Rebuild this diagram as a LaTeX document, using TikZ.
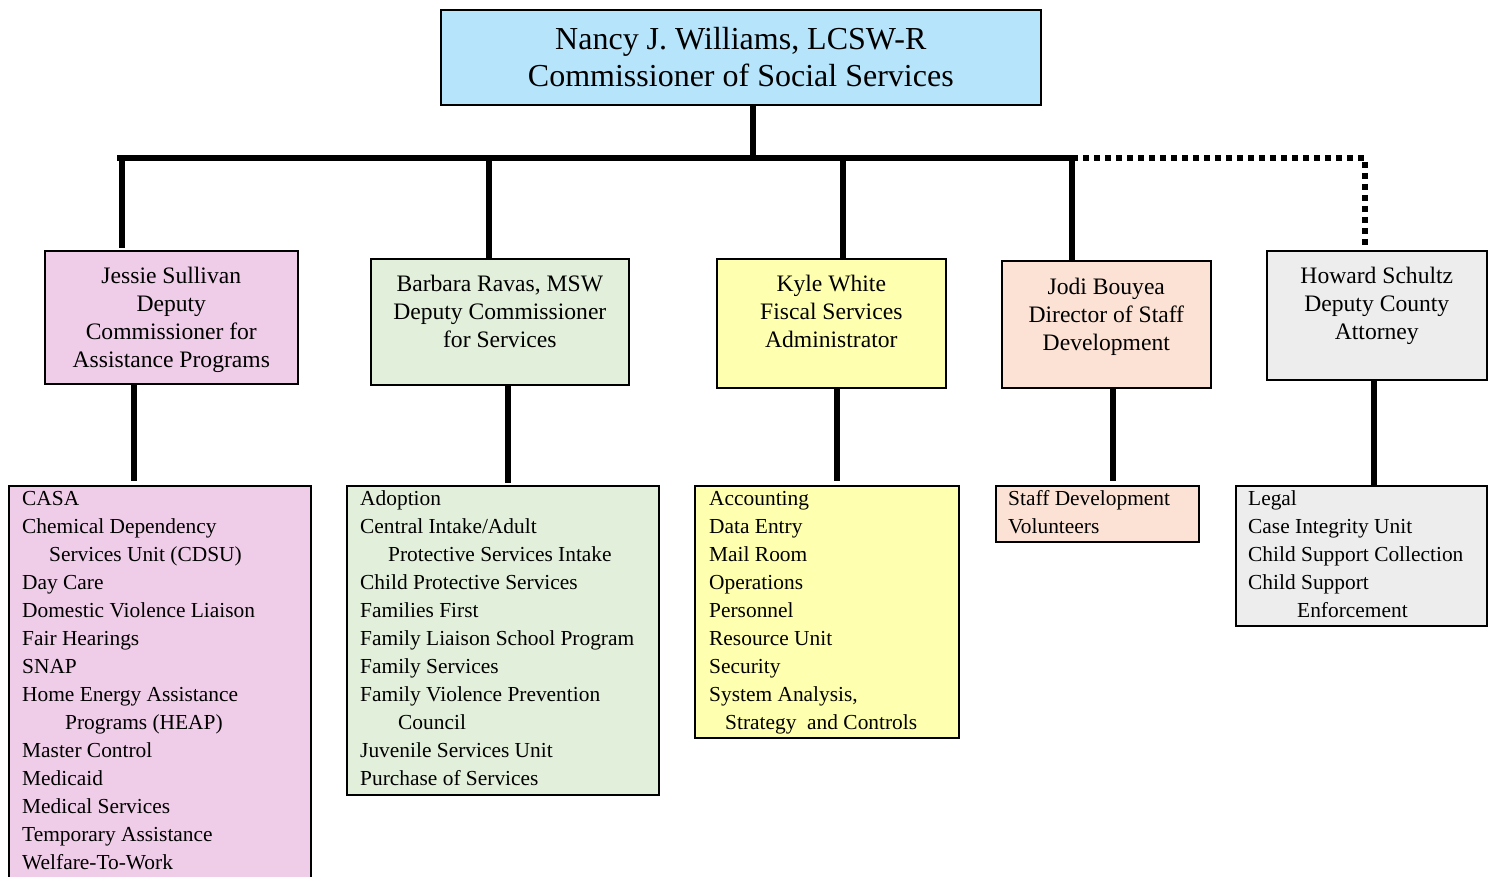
\documentclass[tikz,border=0pt]{standalone}
\usepackage{fontspec}
\setmainfont{Liberation Serif}
\definecolor{cblue}{RGB}{182,229,251}
\definecolor{cpink}{RGB}{239,205,232}
\definecolor{cgreen}{RGB}{226,239,218}
\definecolor{cyellow}{RGB}{255,255,176}
\definecolor{cpeach}{RGB}{251,226,213}
\definecolor{cgray}{RGB}{237,237,237}
\tikzset{
  boxshape/.style={draw=black, line width=1.6pt, rectangle, inner sep=0pt, anchor=north west},
  toptext/.style={inner sep=0pt, align=center, anchor=north, font=\fontsize{32}{37}\selectfont},
  headtext/.style={inner sep=0pt, align=center, anchor=north, font=\fontsize{23.6}{28}\selectfont},
  listtext/.style={inner sep=0pt, align=left, anchor=north west, font=\fontsize{21.4}{28}\selectfont},
  conn/.style={line width=5.5pt},
  dotconn/.style={line width=5.5pt, dash pattern=on 6pt off 5pt},
}
\begin{document}
\begin{tikzpicture}[x=1pt,y=-1pt]
\useasboundingbox (0,0) rectangle (1496,877);
\clip (0,0) rectangle (1496,877);
% top
\node[boxshape, fill=cblue, minimum width=600pt, minimum height=95pt] (top) at (440,9) {};
\node[toptext] (toptx) at ([yshift=-14pt]top.north) {\strut Nancy J. Williams, LCSW-R\\Commissioner of Social Services};
% heads
\node[boxshape, fill=cpink, minimum width=253pt, minimum height=133pt] (js) at (44,250) {};
\node[headtext] (jstx) at ([yshift=-13.5pt]js.north) {\strut Jessie Sullivan\\Deputy\\Commissioner for\\Assistance Programs};
\node[boxshape, fill=cgreen, minimum width=258pt, minimum height=126pt] (br) at (370,258) {};
\node[headtext] (brtx) at ([yshift=-13.8pt]br.north) {\strut Barbara Ravas, MSW\\Deputy Commissioner\\for Services};
\node[boxshape, fill=cyellow, minimum width=229pt, minimum height=129pt] (kw) at (716,258) {};
\node[headtext] (kwtx) at ([yshift=-13.8pt]kw.north) {\strut Kyle White\\Fiscal Services\\Administrator};
\node[boxshape, fill=cpeach, minimum width=209pt, minimum height=127pt] (jb) at (1001,260) {};
\node[headtext] (jbtx) at ([yshift=-14.5pt]jb.north) {\strut Jodi Bouyea\\Director of Staff\\Development};
\node[boxshape, fill=cgray, minimum width=220pt, minimum height=129pt] (hs) at (1266,250) {};
\node[headtext] (hstx) at ([yshift=-13.5pt]hs.north) {\strut Howard Schultz\\Deputy County\\Attorney};
% lists
\node[boxshape, fill=cpink, minimum width=302pt, minimum height=420pt] (jl) at (8,485) {};
\node[listtext] (jltx) at (22,485.5) {\strut CASA\\Chemical Dependency\\\hspace*{27pt}Services Unit (CDSU)\\Day Care\\Domestic Violence Liaison\\Fair Hearings\\SNAP\\Home Energy Assistance\\\hspace*{43pt}Programs (HEAP)\\Master Control\\Medicaid\\Medical Services\\Temporary Assistance\\Welfare-To-Work};
\node[boxshape, fill=cgreen, minimum width=312pt, minimum height=309pt] (bl) at (346,485) {};
\node[listtext] (bltx) at (360,485.5) {\strut Adoption\\Central Intake/Adult\\\hspace*{28pt}Protective Services Intake\\Child Protective Services\\Families First\\Family Liaison School Program\\Family Services\\Family Violence Prevention\\\hspace*{38pt}Council\\Juvenile Services Unit\\Purchase of Services};
\node[boxshape, fill=cyellow, minimum width=264pt, minimum height=252pt] (kl) at (694,485) {};
\node[listtext] (kltx) at (709,485.5) {\strut Accounting\\Data Entry\\Mail Room\\Operations\\Personnel\\Resource Unit\\Security\\System Analysis,\\\hspace*{16pt}Strategy\ \ and Controls};
\node[boxshape, fill=cpeach, minimum width=203pt, minimum height=56pt] (jdl) at (995,485) {};
\node[listtext] (jdltx) at (1008,485.5) {\strut Staff Development\\Volunteers};
\node[boxshape, fill=cgray, minimum width=251pt, minimum height=140pt] (hl) at (1235,485) {};
\node[listtext] (hltx) at (1248,485.5) {\strut Legal\\Case Integrity Unit\\Child Support Collection\\Child Support\\\hspace*{49pt}Enforcement};
% bus
\coordinate (busL) at (120,158);
\coordinate (busR) at (1072,158);
\coordinate (dotR) at (1365,158);
\draw[conn] ([xshift=12pt]top.south) -- ([xshift=12pt]top.south |- busL);
\draw[conn, line cap=rect] (busL) -- (busR);
\draw[conn] ([xshift=2pt]busL) -- ([xshift=2pt,yshift=2pt]busL |- js.north);
\draw[conn] ([xshift=-11pt]br.north) -- ([xshift=-11pt]br.north |- busL);
\draw[conn] ([xshift=11.5pt]kw.north) -- ([xshift=11.5pt]kw.north |- busL);
\draw[conn] (busR) -- (busR |- jb.north);
\draw[dotconn] (busR) -- (dotR) -- ([yshift=5pt]dotR |- hs.north);
% lower connectors
\draw[conn] ([xshift=-37.5pt]js.south) -- ([xshift=-37.5pt,yshift=4pt]js.south |- jl.north);
\draw[conn] ([xshift=8pt]br.south) -- ([xshift=8pt,yshift=2pt]br.south |- bl.north);
\draw[conn] ([xshift=5.5pt]kw.south) -- ([xshift=5.5pt,yshift=4pt]kw.south |- kl.north);
\draw[conn] ([xshift=6.5pt]jb.south) -- ([xshift=6.5pt,yshift=4pt]jb.south |- jdl.north);
\draw[conn] ([xshift=-3pt]hs.south) -- ([xshift=-3pt]hs.south |- hl.north);
\end{tikzpicture}
\end{document}
